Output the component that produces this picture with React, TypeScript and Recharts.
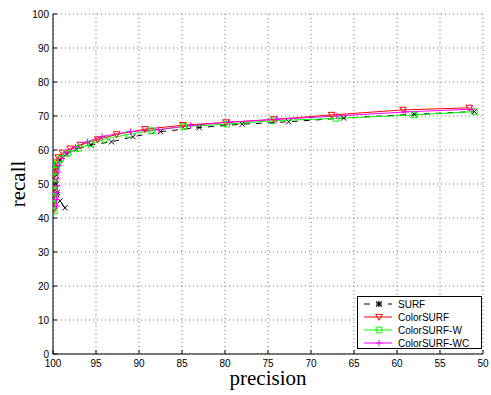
import React from "react";
import { LineChart, Line, XAxis, YAxis, CartesianGrid } from "recharts";

const X_TICKS = [100, 95, 90, 85, 80, 75, 70, 65, 60, 55, 50];
const Y_TICKS = [0, 10, 20, 30, 40, 50, 60, 70, 80, 90, 100];

const SERIES_NAMES = ["SURF", "ColorSURF", "ColorSURF-W", "ColorSURF-WC"];

const SURF_P = [98.6, 99.2, 99.5, 99.6, 99.6, 99.5, 99.2, 98.4, 97.3, 95.6, 93.2, 90.7, 87.5, 83.0, 78.0, 72.6, 66.2, 58.0, 51.0];
const SURF_R = [43.0, 45.0, 47.5, 50.0, 52.5, 55.0, 57.0, 58.8, 60.2, 61.5, 62.4, 63.9, 65.4, 66.6, 67.6, 68.3, 69.4, 70.5, 71.3];

const CS_P = [99.9, 99.9, 99.9, 99.9, 99.9, 99.9, 99.85, 99.7, 99.4, 98.9, 98.0, 96.8, 94.8, 92.6, 89.3, 84.9, 79.9, 74.3, 67.6, 59.3, 51.6];
const CS_R = [42.5, 44.5, 46.5, 48.5, 50.5, 52.5, 54.5, 56.3, 57.8, 59.2, 60.4, 61.5, 63.1, 64.6, 66.1, 67.3, 68.1, 69.0, 70.3, 71.8, 72.4];

const CSW_P = [99.85, 99.85, 99.85, 99.85, 99.85, 99.8, 99.7, 99.5, 99.1, 98.3, 97.0, 95.6, 94.0, 91.2, 88.5, 84.8, 79.8, 74.5, 67.1, 58.0, 51.0];
const CSW_R = [42.0, 44.0, 46.0, 48.0, 50.0, 52.0, 54.0, 55.8, 57.5, 59.0, 60.5, 61.8, 63.2, 64.6, 65.7, 66.9, 67.6, 68.6, 69.3, 70.3, 71.3];

const CSWC_P = [99.6, 99.6, 99.55, 99.5, 99.5, 99.4, 99.3, 99.0, 98.4, 97.4, 96.0, 94.3, 91.0, 87.7, 84.0, 79.5, 74.0, 67.0, 59.0, 51.3];
const CSWC_R = [43.5, 45.5, 47.5, 49.5, 51.5, 53.5, 55.5, 57.5, 59.3, 60.8, 62.4, 64.0, 65.4, 66.0, 67.2, 68.2, 69.0, 70.0, 71.2, 72.0];

const toData = (p: number[], r: number[]) => p.map((v, i) => ({ p: v, r: r[i] }));

const COLORS = ["#000000", "#ff0000", "#00ff00", "#ff00ff"];
const SANS = "'Liberation Sans', Arial, Helvetica, sans-serif";
const SERIF = "'Liberation Serif', 'Times New Roman', serif";

type MK = "x" | "tri" | "sq" | "plus";

function markerPath(kind: MK, cx: number, cy: number): string {
  const s = 3.3;
  if (kind === "x") {
    return `M${cx - 2.6},${cy - 2.6}L${cx + 2.6},${cy + 2.6}M${cx - 2.6},${cy + 2.6}L${cx + 2.6},${cy - 2.6}`;
  }
  if (kind === "tri") {
    return `M${cx - s},${cy - s * 0.8}L${cx + s},${cy - s * 0.8}L${cx},${cy + s}Z`;
  }
  if (kind === "sq") {
    const h = 2.8;
    return `M${cx - h},${cy - h}L${cx + h},${cy - h}L${cx + h},${cy + h}L${cx - h},${cy + h}Z`;
  }
  return `M${cx - s},${cy}L${cx + s},${cy}M${cx},${cy - s}L${cx},${cy + s}`;
}

const makeDot = (kind: MK, color: string) => (props: any) => {
  const { cx, cy, index } = props;
  if (cx == null || cy == null) return <g key={`d-${kind}-${index}`} />;
  return (
    <path
      key={`d-${kind}-${index}`}
      d={markerPath(kind, cx, cy)}
      fill="none"
      stroke={color}
      strokeWidth={1}
    />
  );
};

const XTick = (props: any) => {
  const { x, y, payload } = props;
  return (
    <g>
      <line x1={x} y1={y} x2={x} y2={y - 4} stroke="#000" strokeWidth={1} />
      <text x={x} y={y + 12.5} textAnchor="middle" fontSize={10} fontFamily={SANS} fill="#000">
        {payload.value}
      </text>
    </g>
  );
};

const YTick = (props: any) => {
  const { x, y, payload } = props;
  return (
    <g>
      <line x1={x} y1={y} x2={x + 4} y2={y} stroke="#000" strokeWidth={1} />
      <text x={x - 4} y={y + 3.6} textAnchor="end" fontSize={10} fontFamily={SANS} fill="#000">
        {payload.value}
      </text>
    </g>
  );
};

const MARKERS: MK[] = ["x", "tri", "sq", "plus"];

const LegendBox = () => (
  <div
    style={{
      position: "absolute",
      left: 357,
      top: 296,
      width: 123,
      height: 51,
      border: "1px solid #000",
      background: "#fff",
    }}
  >
    <svg width={123} height={51} style={{ position: "absolute", left: 0, top: 0 }}>
      {SERIES_NAMES.map((name, i) => {
        const cy = 7 + i * 13;
        const c = COLORS[i];
        return (
          <g key={name}>
            <line
              x1={6}
              x2={34}
              y1={cy}
              y2={cy}
              stroke={c}
              strokeWidth={1}
              strokeDasharray={i === 0 ? "6 6" : undefined}
            />
            {i === 0 ? (
              <path
                d={`M${18},${cy - 2.6}L${24},${cy + 2.6}M${18},${cy + 2.6}L${24},${cy - 2.6}M${21},${cy - 3}L${21},${cy + 3}`}
                stroke="#000"
                strokeWidth={1.2}
                fill="none"
              />
            ) : (
              <path d={markerPath(MARKERS[i], 21, cy)} stroke={c} strokeWidth={1} fill="none" />
            )}
            <text x={40} y={cy + 3.6} fontSize={10} fontFamily={SANS} fill="#000">
              {name}
            </text>
          </g>
        );
      })}
    </svg>
  </div>
);

export default function App() {
  const series = [
    toData(SURF_P, SURF_R),
    toData(CS_P, CS_R),
    toData(CSW_P, CSW_R),
    toData(CSWC_P, CSWC_R),
  ];
  return (
    <div style={{ position: "absolute", left: 0, top: 0, width: 491, height: 395, background: "#fff" }}>
      <LineChart width={491} height={395} margin={{ top: 14, right: 8, bottom: 0, left: 0 }}>
        <CartesianGrid stroke="#777" strokeDasharray="1 3" strokeWidth={1} />
        <XAxis
          type="number"
          dataKey="p"
          domain={[50, 100]}
          reversed
          ticks={X_TICKS}
          interval={0}
          height={41}
          tickSize={0}
          tickMargin={0}
          tickLine={false}
          axisLine={{ stroke: "#000", strokeWidth: 1 }}
          tick={<XTick />}
          allowDataOverflow
        />
        <YAxis
          type="number"
          dataKey="r"
          domain={[0, 100]}
          ticks={Y_TICKS}
          interval={0}
          width={53}
          tickSize={0}
          tickMargin={0}
          tickLine={false}
          axisLine={{ stroke: "#000", strokeWidth: 1 }}
          tick={<YTick />}
          allowDataOverflow
        />
        <Line
          data={series[0]}
          dataKey="r"
          name={SERIES_NAMES[0]}
          stroke={COLORS[0]}
          strokeWidth={1}
          strokeDasharray="6 6"
          dot={makeDot("x", COLORS[0])}
          activeDot={false}
          isAnimationActive={false}
        />
        <Line
          data={series[1]}
          dataKey="r"
          name={SERIES_NAMES[1]}
          stroke={COLORS[1]}
          strokeWidth={1}
          dot={makeDot("tri", COLORS[1])}
          activeDot={false}
          isAnimationActive={false}
        />
        <Line
          data={series[2]}
          dataKey="r"
          name={SERIES_NAMES[2]}
          stroke={COLORS[2]}
          strokeWidth={1}
          dot={makeDot("sq", COLORS[2])}
          activeDot={false}
          isAnimationActive={false}
        />
        <Line
          data={series[3]}
          dataKey="r"
          name={SERIES_NAMES[3]}
          stroke={COLORS[3]}
          strokeWidth={1}
          dot={makeDot("plus", COLORS[3])}
          activeDot={false}
          isAnimationActive={false}
        />
        <text x={268} y={385} textAnchor="middle" fontSize={21} fontFamily={SERIF} fill="#000">
          precision
        </text>
        <text
          x={25}
          y={184}
          textAnchor="middle"
          fontSize={21}
          fontFamily={SERIF}
          fill="#000"
          transform="rotate(-90 25 184)"
        >
          recall
        </text>
      </LineChart>
      <LegendBox />
    </div>
  );
}
